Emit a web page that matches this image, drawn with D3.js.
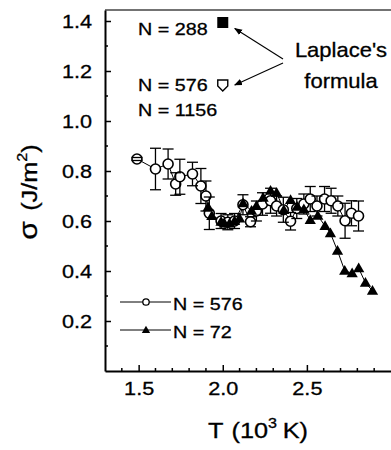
<!DOCTYPE html>
<html><head><meta charset="utf-8">
<script src="https://cdn.jsdelivr.net/npm/d3@7"></script>
<style>
body{margin:0;background:#fff}
svg{display:block}
text{font-family:"Liberation Sans",Arial,Helvetica,sans-serif;fill:#000;stroke:#000;stroke-width:0.3px}
</style>
</head><body>
<svg id="chart" width="391" height="450"></svg>
<script>
// ---- data ----
const circleT = [1.49,1.60,1.675,1.72,1.745,1.82,1.87,1.90,1.92,1.99,2.03,2.07,2.12,2.165,2.20,2.236,2.284,2.32,2.36,2.403,2.44,2.482,2.52,2.56,2.605,2.644,2.684,2.727,2.765,2.807];
const circleS = [0.848,0.808,0.828,0.748,0.777,0.788,0.74,0.70,0.631,0.60,0.595,0.60,0.665,0.597,0.64,0.668,0.681,0.66,0.645,0.599,0.65,0.668,0.688,0.66,0.688,0.681,0.66,0.601,0.631,0.62];
const circleErr = [0.006,0.083,0.06,0.045,0.07,0.047,0.07,0.06,0.065,0.03,0.03,0.03,0.04,0.02,0.04,0.045,0.05,0.04,0.05,0.035,0.04,0.04,0.05,0.04,0.05,0.05,0.04,0.07,0.05,0.06];
const triT = [1.913,1.935,1.99,2.01,2.04,2.07,2.10,2.121,2.171,2.20,2.24,2.284,2.32,2.363,2.403,2.442,2.482,2.52,2.565,2.608,2.64,2.682,2.725,2.769,2.808,2.848,2.89];
const triS = [0.655,0.62,0.597,0.59,0.59,0.60,0.61,0.671,0.641,0.66,0.693,0.721,0.713,0.644,0.684,0.657,0.647,0.604,0.621,0.58,0.551,0.481,0.401,0.391,0.411,0.353,0.321];
const laplaceLabels = ["N = 288","N = 576","N = 1156"];
const laplaceT = [2.0, 2.0];
const laplaceS = [1.394, 1.146];
const legendLabels = ["N = 576","N = 72"];
const xTickValues = [1.5,2.0,2.5];
const xMinorTicks = [1.4,1.6,1.7,1.8,1.9,2.1,2.2,2.3,2.4,2.6,2.7,2.8,2.9];
const yTickValues = [0.2,0.4,0.6,0.8,1.0,1.2,1.4];
const yMinorTicks = [0.1,0.3,0.5,0.7,0.9,1.1,1.3];

// ---- layout ----
const svg = d3.select("#chart");
const x = d3.scaleLinear().domain([1.3,3.0]).range([105,391]);
const y = d3.scaleLinear().domain([0,1.444]).range([371,10]);
const SX = 1.14;

function label(px, py, str, size, anchor, sx){
  const g = svg.append("g").attr("transform",`translate(${px},${py})`);
  const t = g.append("text").attr("font-size",size).attr("text-anchor",anchor||"start")
    .attr("transform",`scale(${sx||SX},1)`).text(str);
  return t;
}

// frame top line
svg.append("line").attr("x1",x(1.3)).attr("x2",391).attr("y1",y(1.444)).attr("y2",y(1.444))
  .attr("stroke","#444").attr("stroke-width",1.3);

// axes
const xAxis = svg.append("g").attr("transform",`translate(0,${y(0)})`)
  .call(d3.axisBottom(x).tickValues(xTickValues).tickFormat(d3.format(".1f")).tickSizeInner(-6).tickSizeOuter(0).tickPadding(11));
xAxis.append("g").selectAll("line").data(xMinorTicks).join("line")
  .attr("x1",d=>x(d)).attr("x2",d=>x(d)).attr("y1",0).attr("y2",-3).attr("stroke","#000").attr("stroke-width",1.5);
const yAxis = svg.append("g").attr("transform",`translate(${x(1.3)},0)`)
  .call(d3.axisLeft(y).tickValues(yTickValues).tickFormat(d3.format(".1f")).tickSizeInner(-6).tickSizeOuter(0).tickPadding(13));
yAxis.append("g").selectAll("line").data(yMinorTicks).join("line")
  .attr("y1",d=>y(d)).attr("y2",d=>y(d)).attr("x1",0).attr("x2",3).attr("stroke","#000").attr("stroke-width",1.5);
[xAxis,yAxis].forEach(a=>{
  a.select(".domain").attr("stroke","#000").attr("stroke-width",2);
  a.selectAll(".tick line").attr("stroke","#000").attr("stroke-width",1.5);
  a.selectAll(".tick text").attr("font-size",19).attr("fill","#000")
    .attr("font-family",'"Liberation Sans",Arial,sans-serif')
    .attr("transform",`scale(${SX},1)`);
});
yAxis.selectAll(".tick text").attr("x",-13/SX);

// axis titles
const xt = label(258, 438, null, 22, "middle", 1.15);
xt.append("tspan").text("T");
xt.append("tspan").attr("dx",7).text("(10");
xt.append("tspan").attr("dy",-10).attr("font-size",14).text("3");
xt.append("tspan").attr("dy",10).attr("dx",5).text("K)");

const yg = svg.append("g").attr("transform","translate(37,192) rotate(-90)");
const yt = yg.append("text").attr("text-anchor","middle").attr("font-size",22).attr("transform","scale(1.15,1)");
yt.append("tspan").attr("font-size",26).text("σ");
yt.append("tspan").attr("dx",9).text("(J/m");
yt.append("tspan").attr("dy",-10).attr("font-size",14).text("2");
yt.append("tspan").attr("dy",10).text(")");

// lines
const line = d3.line().x(d=>x(d[0])).y(d=>y(d[1]));
const circPts = circleT.map((t,i)=>[t,circleS[i]]);
const triPts = triT.map((t,i)=>[t,triS[i]]);
svg.append("path").datum(circPts).attr("d",line).attr("fill","none").attr("stroke","#000").attr("stroke-width",1);
svg.append("path").datum(triPts).attr("d",line).attr("fill","none").attr("stroke","#000").attr("stroke-width",1);

// circles
const R = 5;
svg.append("g").selectAll("circle").data(circPts).join("circle")
  .attr("cx",d=>x(d[0])).attr("cy",d=>y(d[1])).attr("r",R)
  .attr("fill","#fff").attr("stroke","#000").attr("stroke-width",1.6);

// error bars for N = 576 (stems start outside the circle)
const eb = svg.append("g").attr("stroke","#000").attr("stroke-width",1.3);
circleT.forEach((t,i)=>{
  const cx = x(t), cy = y(circleS[i]), y0 = y(circleS[i]-circleErr[i]), y1 = y(circleS[i]+circleErr[i]);
  if (y0 > cy + R) eb.append("line").attr("x1",cx).attr("x2",cx).attr("y1",cy+R).attr("y2",y0);
  if (y1 < cy - R) eb.append("line").attr("x1",cx).attr("x2",cx).attr("y1",cy-R).attr("y2",y1);
  eb.append("line").attr("x1",cx-5.5).attr("x2",cx+5.5).attr("y1",y0).attr("y2",y0);
  eb.append("line").attr("x1",cx-5.5).attr("x2",cx+5.5).attr("y1",y1).attr("y2",y1);
});

// triangles
const tri = d3.symbol().type(d3.symbolTriangle).size(55);
svg.append("g").selectAll("path").data(triPts).join("path")
  .attr("transform",d=>`translate(${x(d[0])},${y(d[1])+0.8})`).attr("d",tri).attr("fill","#000");

// Laplace markers
const lx0 = x(laplaceT[0]), ly0 = y(laplaceS[0]);
svg.append("rect").attr("x",lx0-5.5).attr("y",ly0-5.5).attr("width",11).attr("height",11).attr("fill","#000");
const lx1 = x(laplaceT[1]), ly1 = y(laplaceS[1]);
svg.append("path").attr("d",`M${lx1-5},${ly1-4.5}H${lx1+5}V${ly1+1.5}L${lx1},${ly1+6.5}L${lx1-5},${ly1+1.5}Z`)
  .attr("fill","#fff").attr("stroke","#000").attr("stroke-width",1.4);

// annotation labels
label(138, 34.5, laplaceLabels[0], 17, "start", 1.16);
label(138, 90.5, laplaceLabels[1], 17, "start", 1.16);
label(138, 115.5, laplaceLabels[2], 17, "start", 1.16);
label(341, 57, "Laplace's", 20, "middle", 1.1);
label(341, 88, "formula", 20, "middle", 1.1);

// arrows
const defs = svg.append("defs");
defs.append("marker").attr("id","ah").attr("viewBox","0 0 10 10").attr("refX",9).attr("refY",5)
  .attr("markerWidth",8).attr("markerHeight",8).attr("markerUnits","userSpaceOnUse").attr("orient","auto")
  .append("path").attr("d","M0,1L10,5L0,9Z").attr("fill","#000");
svg.append("line").attr("x1",283).attr("y1",59).attr("x2",lx0+12).attr("y2",ly0+6)
  .attr("stroke","#000").attr("stroke-width",1.1).attr("marker-end","url(#ah)");
svg.append("line").attr("x1",283).attr("y1",63).attr("x2",lx1+12).attr("y2",ly1+0.5)
  .attr("stroke","#000").attr("stroke-width",1.1).attr("marker-end","url(#ah)");

// legend
const lg = svg.append("g");
[302,330].forEach((ly,i)=>{
  lg.append("line").attr("x1",120).attr("x2",171).attr("y1",ly).attr("y2",ly).attr("stroke","#000").attr("stroke-width",1);
  if(i===0){
    lg.append("circle").attr("cx",146).attr("cy",ly).attr("r",3.2).attr("fill","#fff").attr("stroke","#000").attr("stroke-width",1.3);
  } else {
    lg.append("path").attr("transform",`translate(146,${ly+0.5})`).attr("d",d3.symbol().type(d3.symbolTriangle).size(30)).attr("fill","#000");
  }
  label(173, ly+8, legendLabels[i], 17, "start", 1.16);
});
</script>
</body></html>
